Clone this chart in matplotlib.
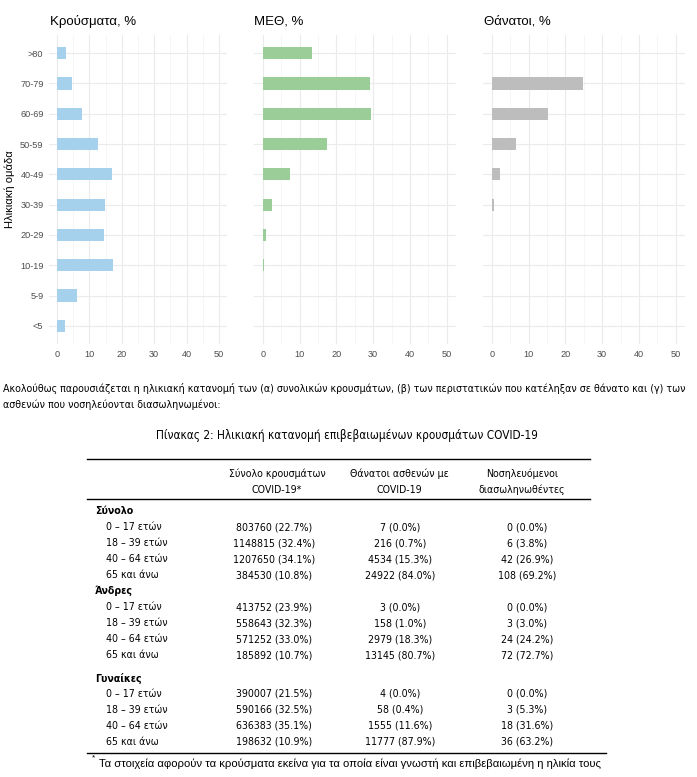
import matplotlib
matplotlib.use("Agg")
import matplotlib.pyplot as plt
from matplotlib.lines import Line2D
from matplotlib import font_manager
import numpy as np

W, H = 697, 777

# age groups, bottom to top
age_groups = ["<5", "5-9", "10-19", "20-29", "30-39", "40-49", "50-59", "60-69", "70-79", ">80"]
cases_pct = [2.4, 6.1, 17.2, 14.5, 14.9, 17.1, 12.6, 7.7, 4.6, 2.9]
icu_pct = [0.2, 0.0, 0.3, 0.9, 2.5, 7.4, 17.5, 29.3, 29.2, 13.5]
deaths_pct = [0.0, 0.0, 0.0, 0.2, 0.6, 2.3, 6.7, 15.3, 24.9, 0.0]

panel_titles = ["Κρούσματα, %", "ΜΕΘ, %", "Θάνατοι, %"]
panel_colors = ["#a6d1ed", "#9acd98", "#bdbdbd"]
x_ticks = [0, 10, 20, 30, 40, 50]

paragraph = ["Ακολούθως παρουσιάζεται η ηλικιακή κατανομή των (α) συνολικών κρουσμάτων, (β) των περιστατικών που κατέληξαν σε θάνατο και (γ) των",
             "ασθενών που νοσηλεύονται διασωληνωμένοι:"]
table_title = "Πίνακας 2: Ηλικιακή κατανομή επιβεβαιωμένων κρουσμάτων COVID-19"
col_headers = [["Σύνολο κρουσμάτων", "COVID-19*"],
               ["Θάνατοι ασθενών με", "COVID-19"],
               ["Νοσηλευόμενοι", "διασωληνωθέντες"]]
groups = ["Σύνολο", "Άνδρες", "Γυναίκες"]
row_labels = ["0 – 17 ετών", "18 – 39 ετών", "40 – 64 ετών", "65 και άνω"]
total_cases = ["803760 (22.7%)", "1148815 (32.4%)", "1207650 (34.1%)", "384530 (10.8%)"]
total_deaths = ["7 (0.0%)", "216 (0.7%)", "4534 (15.3%)", "24922 (84.0%)"]
total_icu = ["0 (0.0%)", "6 (3.8%)", "42 (26.9%)", "108 (69.2%)"]
men_cases = ["413752 (23.9%)", "558643 (32.3%)", "571252 (33.0%)", "185892 (10.7%)"]
men_deaths = ["3 (0.0%)", "158 (1.0%)", "2979 (18.3%)", "13145 (80.7%)"]
men_icu = ["0 (0.0%)", "3 (3.0%)", "24 (24.2%)", "72 (72.7%)"]
women_cases = ["390007 (21.5%)", "590166 (32.5%)", "636383 (35.1%)", "198632 (10.9%)"]
women_deaths = ["4 (0.0%)", "58 (0.4%)", "1555 (11.6%)", "11777 (87.9%)"]
women_icu = ["0 (0.0%)", "3 (5.3%)", "18 (31.6%)", "36 (63.2%)"]
footnote = "Τα στοιχεία αφορούν τα κρούσματα εκείνα για τα οποία είναι γνωστή και επιβεβαιωμένη η ηλικία τους"

# look for a condensed face for the document text
fonts = font_manager.fontManager.ttflist
names = {f.name for f in fonts}
has_dv_cond = any(f.name == "DejaVu Sans" and f.stretch in ("condensed", 300, "semi-condensed") for f in fonts)
if "Liberation Sans Narrow" in names:
    doc_font = dict(family="Liberation Sans Narrow")
    para_fs, tab_fs, title_fs = 8.9, 8.2, 9.3
elif has_dv_cond:
    doc_font = dict(family="DejaVu Sans", stretch="condensed")
    para_fs, tab_fs, title_fs = 7.7, 7.6, 8.5
else:
    doc_font = dict(family="Liberation Sans")
    para_fs, tab_fs, title_fs = 8.0, 8.0, 8.8
sans = "Liberation Sans"


def fx(px):
    return px / W


def fy(py):
    return 1 - py / H


fig = plt.figure(figsize=(W / 100, H / 100), dpi=100)

# panel boxes in pixels: left, right
panels = [(49, 227), (253.5, 456), (482.5, 685)]
top_px, bottom_px = 35, 344
series = [cases_pct, icu_pct, deaths_pct]

for i, ((l, r), vals) in enumerate(zip(panels, series)):
    ax = fig.add_axes([fx(l), fy(bottom_px), fx(r - l), (bottom_px - top_px) / H])
    y = np.arange(len(age_groups))
    ax.barh(y, vals, height=0.4, color=panel_colors[i], zorder=3)
    ax.set_xlim(-2.5, 52.5)
    ax.set_ylim(-0.6, len(age_groups) - 0.4)
    ax.set_xticks(x_ticks)
    ax.set_xticks([5, 15, 25, 35, 45], minor=True)
    ax.set_yticks(y)
    ax.grid(which="major", color="#ebebeb", lw=0.8, zorder=0)
    ax.grid(which="minor", axis="x", color="#f3f3f3", lw=0.5, zorder=0)
    ax.tick_params(which="both", length=0, labelsize=6.6, labelcolor="#4d4d4d", pad=4)
    for lab in ax.get_xticklabels():
        lab.set_family(sans)
    if i == 0:
        ax.set_yticklabels(age_groups, family=sans)
        ax.set_ylabel("Ηλικιακή ομάδα", family=sans, fontsize=8, labelpad=4)
    else:
        ax.set_yticklabels([])
    for s in ax.spines.values():
        s.set_visible(False)
    fig.text(fx(l + 1), fy(22), panel_titles[i], family=sans, fontsize=9.5, va="center", ha="left")

# paragraph
fig.text(fx(3), fy(388), paragraph[0], fontsize=para_fs, va="center", ha="left", **doc_font)
fig.text(fx(3), fy(405), paragraph[1], fontsize=para_fs, va="center", ha="left", **doc_font)
fig.text(fx(347), fy(435), table_title, fontsize=title_fs, va="center", ha="center", **doc_font)

# table
col_x = [277, 399, 522]
val_x = [274, 400, 527]
for cx, hdr in zip(col_x, col_headers):
    fig.text(fx(cx), fy(474), hdr[0], fontsize=tab_fs, ha="center", va="center", **doc_font)
    fig.text(fx(cx), fy(490), hdr[1], fontsize=tab_fs, ha="center", va="center", **doc_font)

fig.add_artist(Line2D([fx(87), fx(590)], [fy(459), fy(459)], color="black", lw=1.0))
fig.add_artist(Line2D([fx(87), fx(590)], [fy(499), fy(499)], color="black", lw=1.0))
fig.add_artist(Line2D([fx(87), fx(606)], [fy(753), fy(753)], color="black", lw=1.0))

blocks = [(total_cases, total_deaths, total_icu),
          (men_cases, men_deaths, men_icu),
          (women_cases, women_deaths, women_icu)]
group_y = [511, 591, 678]
for g, gy, cols in zip(groups, group_y, blocks):
    fig.text(fx(95), fy(gy), g, fontsize=tab_fs, weight="bold", ha="left", va="center", **doc_font)
    for k, lab in enumerate(row_labels):
        ry = gy + 16 * (k + 1)
        fig.text(fx(106), fy(ry), lab, fontsize=tab_fs, ha="left", va="center", **doc_font)
        for vx, col in zip(val_x, cols):
            fig.text(fx(vx), fy(ry), col[k], fontsize=tab_fs, ha="center", va="center", **doc_font)

fig.text(fx(92), fy(758), "*", family=sans, fontsize=6, ha="left", va="center")
fig.text(fx(99), fy(764), footnote, family=sans, fontsize=8.1, ha="left", va="center")

fig.savefig("out.png", dpi=100)
